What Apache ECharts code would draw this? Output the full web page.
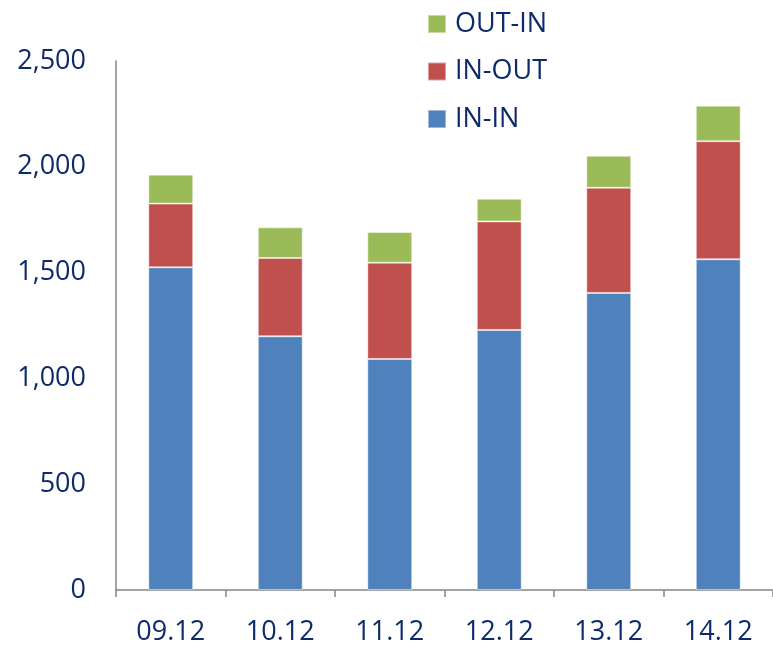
<!DOCTYPE html>
<html>
<head>
<meta charset="utf-8">
<script src="https://cdn.jsdelivr.net/npm/echarts@6/dist/echarts.min.js"></script>
<style>html,body{margin:0;padding:0;background:#fff;}#c{width:773px;height:648px;}</style>
</head>
<body>
<div id="c"></div>
<script>
const categories = ['09.12', '10.12', '11.12', '12.12', '13.12', '14.12'];
const inIn = [1525, 1199, 1092, 1229, 1404, 1563];
const inOut = [301, 370, 455, 513, 497, 558];
const outIn = [137, 145, 145, 107, 151, 168];
const yTicks = [0, 500, 1000, 1500, 2000, 2500];

const textColor = '#0d2a6b';
const fontFamily = 'Open Sans';
const chart = echarts.init(document.getElementById('c'), null, {renderer: 'canvas'});
const barStyle = (c) => ({color: c, borderColor: 'rgba(255,255,255,0.45)', borderWidth: 1});
chart.setOption({
  animation: false,
  backgroundColor: '#fff',
  textStyle: {fontFamily: fontFamily},
  legend: {
    orient: 'vertical',
    left: 427,
    top: 9,
    padding: 0,
    itemWidth: 18,
    itemHeight: 18,
    itemGap: 17.5,
    icon: 'rect',
    data: ['OUT-IN', 'IN-OUT', 'IN-IN'],
    textStyle: {color: textColor, fontSize: 27, lineHeight: 30, fontFamily: fontFamily, padding: [0, 0, 0, 4]}
  },
  grid: {left: 116, top: 61, width: 662, height: 529, containLabel: false},
  xAxis: {
    type: 'category',
    data: categories,
    axisLine: {lineStyle: {color: '#868686', width: 1.5}},
    axisTick: {show: true, length: 7, lineStyle: {color: '#868686', width: 1.5}},
    axisLabel: {color: textColor, fontSize: 27, margin: 29, fontFamily: fontFamily}
  },
  yAxis: {
    type: 'value',
    min: yTicks[0],
    max: yTicks[yTicks.length - 1],
    interval: 500,
    axisLine: {show: true, lineStyle: {color: '#868686', width: 1.5}},
    axisTick: {show: false},
    splitLine: {show: false},
    axisLabel: {
      color: textColor, fontSize: 27, margin: 30, fontFamily: fontFamily,
      formatter: (v) => v.toLocaleString('en-US')
    }
  },
  series: [
    {name: 'IN-IN', type: 'bar', stack: 't', data: inIn, barWidth: '41%', itemStyle: barStyle('#4f81bd')},
    {name: 'IN-OUT', type: 'bar', stack: 't', data: inOut, barWidth: '41%', itemStyle: barStyle('#c0504d')},
    {name: 'OUT-IN', type: 'bar', stack: 't', data: outIn, barWidth: '41%', itemStyle: barStyle('#9bbb59')}
  ]
});
</script>
</body>
</html>
